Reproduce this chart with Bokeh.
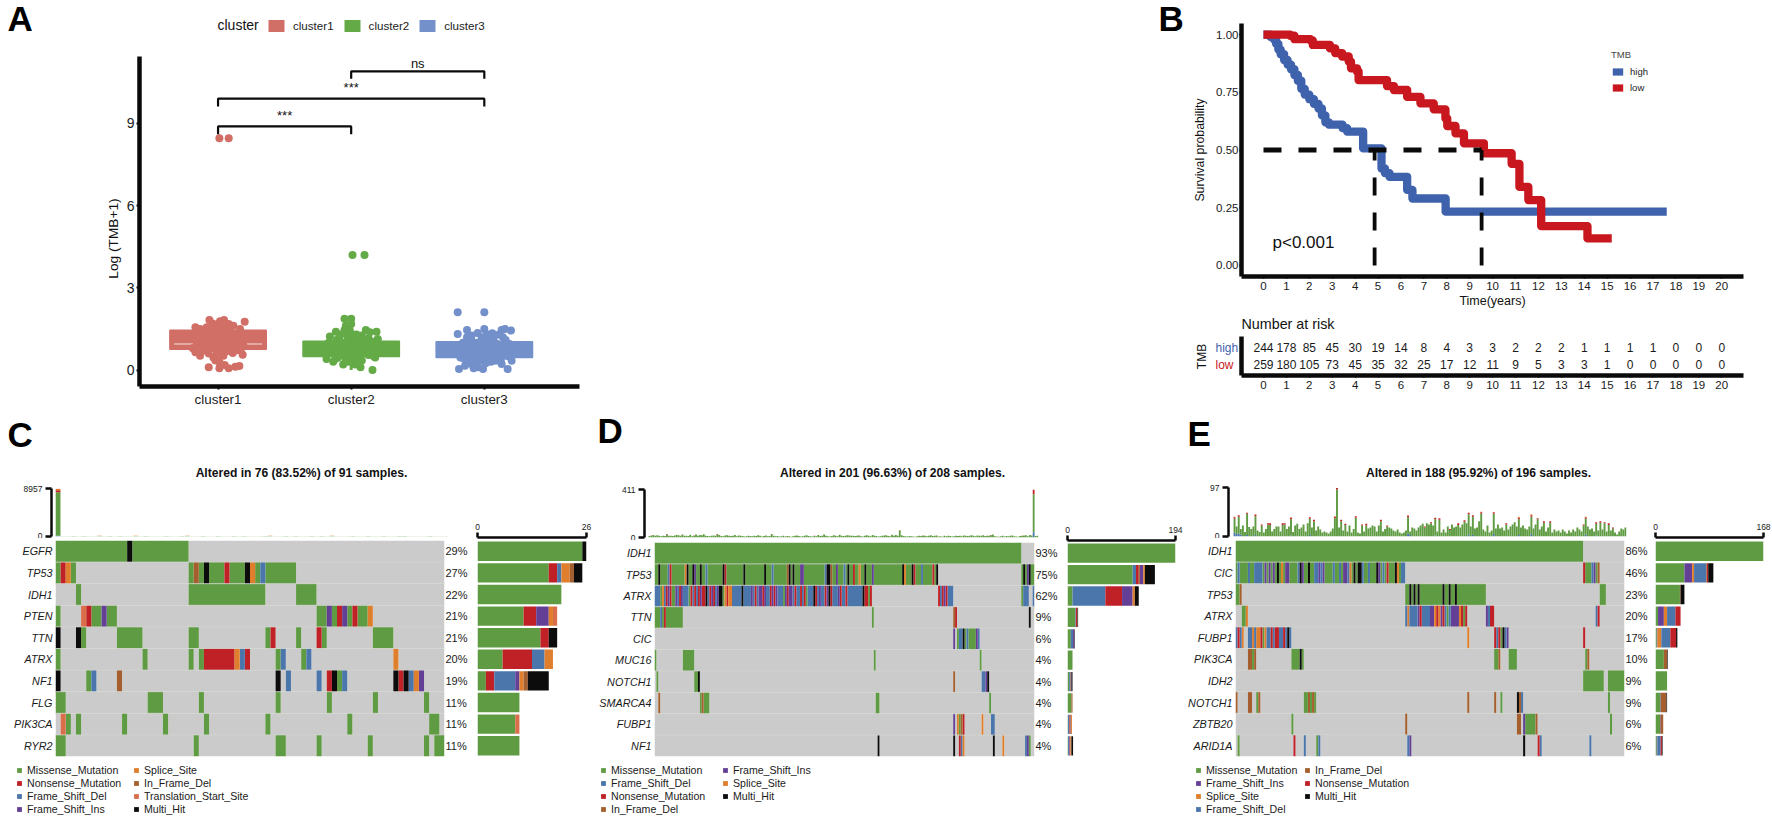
import re, math
from bokeh.plotting import figure
from bokeh.layouts import row, column
from bokeh.models import (Range1d, Label, LinearAxis, FixedTicker, Legend, LegendItem, Spacer, ColumnDataSource)
from bokeh.core.properties import value
from bokeh.embed import file_html
from bokeh.resources import INLINE

FONT = "Liberation Sans"
NAN = float("nan")

# ---------------------------------------------------------------- panel A data
CLUSTERS = ["cluster1", "cluster2", "cluster3"]
CL_COLORS = ["#D16F66", "#64AB48", "#7390CB"]
BOX_Q1 = [0.77, 0.50, 0.47]
BOX_Q3 = [1.44, 1.04, 1.02]
BOX_MED = [0.95, 0.77, 0.74]
WHISK_LO = [0.07, 0.0, 0.04]
WHISK_HI = [1.83, 1.87, 1.5]
C1_J = [.01,.08,-.065,.015,.045,.115,.2,-.17,-.135,-.085,-.02,.08,.165,.18,.185,-.17,-.135,-.035,.04,.13,-.07,.01,.05,.08,.13,.16,
        -.12,-.1,-.08,-.06,-.05,-.04,-.03,-.02,0,.01,.02,.03,.04,.05,.06,.07,.08,.09,.1,.12,-.14,-.13,-.11,-.07,-.01,.02,-.04,0,.14,.16,-.16,.11,-.02,.01,
        -.19,-.18,.19,.17,-.15,-.09,-.03,.03,.06,.09,.11,.13,-.12,-.06,0,.05,-.1,.15,-.14,.07]
C1_Y = [8.46,8.46,1.83,1.78,1.83,1.62,1.76,1.56,1.5,1.56,1.62,1.68,1.5,1.07,.56,.65,.52,.46,.52,.71,.1,.07,.18,.07,.12,.15,
        1.3,1.1,.9,1.4,1.2,1.0,.8,1.35,1.15,.95,.75,1.45,1.25,1.05,.85,1.4,1.2,1.0,.8,1.3,.85,1.15,.7,.6,.6,1.6,1.7,1.5,.95,1.25,1.0,.62,.35,.3,
        .8,1.2,.9,.7,.65,.75,1.55,.55,1.55,1.45,1.1,.9,1.0,.85,.5,.65,1.45,1.1,1.35,.7]
C2_J = [.01,.1,-.05,0,-.04,0,-.05,-.01,-.115,-.16,.11,.14,.19,.08,-.185,-.135,-.06,.07,.16,.04,.18,.2,
        -.17,-.15,-.13,-.11,-.09,-.07,-.05,-.03,-.01,.01,.03,.05,.07,.09,.11,.13,.15,.17,-.12,-.08,-.04,0,.04,.08,.12,-.1,-.06,-.02,.02,.06,.1,.14,-.14,.16,-.02,.03,-.18,.17,
        -.19,-.18,.19,.17,-.13,-.09,-.05,-.01,.03,.07,.11,.15,-.11,-.03,.01,.05,.09,.13,-.07,0]
C2_Y = [4.2,4.2,1.87,1.87,1.62,1.68,1.46,1.44,1.4,1.22,1.46,1.38,1.4,1.26,.4,.3,.2,.1,0,.34,.46,1.13,
        1.0,.8,.6,1.1,.9,.7,.5,1.25,1.05,.85,.65,.45,1.15,.95,.75,.55,1.05,.85,.4,1.3,.35,1.2,1.3,.35,.7,.45,1.0,.6,.95,.7,1.1,.6,.9,.7,.3,.2,.7,.5,
        .9,.6,.8,1.0,.95,1.15,.8,.65,.95,.8,.9,.75,.7,1.0,1.3,1.2,1.0,1.15,.55,.4]
C3_J = [-.2,0,-.2,-.13,0,.06,.13,.2,.155,-.095,-.19,-.145,-.08,-.01,-.045,.175,.13,.205,-.18,
        -.16,-.14,-.12,-.1,-.08,-.06,-.04,-.02,0,.02,.04,.06,.08,.1,.12,.14,.16,.18,-.15,-.11,-.07,-.03,.01,.05,.09,.13,.17,-.13,-.05,.03,.07,.11,-.09,.19,-.17,
        -.19,-.18,.2,.18,-.14,-.1,-.06,-.02,.02,.06,.1,.14,-.12,-.04,0,.04,.08,.12,-.08,.16]
C3_Y = [2.11,2.11,1.32,1.46,1.5,1.34,1.46,1.44,1.5,1.26,.04,.16,.07,.04,.1,.04,.22,.34,.46,
        1.0,.8,.6,1.1,.9,.7,.5,1.2,1.0,.8,.6,1.1,.9,.7,.5,1.2,1.0,.8,.4,.35,.3,.35,.25,.3,.35,.45,.7,1.2,1.35,1.3,1.15,1.3,.2,.95,.75,
        .9,.7,.7,.5,.9,.7,1.0,.8,1.1,.75,.95,.7,1.25,.65,.45,.55,.35,.6,.45,1.1]
BRACKET_FROM = [1, 1, 2]
BRACKET_TO = [2, 3, 3]
BRACKET_Y = [8.89, 9.9, 10.9]
BRACKET_TIP = [8.6, 9.62, 10.63]
BRACKET_TXT = ["***", "***", "ns"]
BRACKET_TXT_Y = [9.27, 10.31, 11.18]

# ---------------------------------------------------------------- panel B data
HIGH_T = [0,.3,.45,.55,.65,.75,.9,1.05,1.2,1.35,1.5,1.65,1.8,2.0,2.2,2.4,2.55,2.7,2.85,3.45,3.65,4.35,5.15,5.3,5.5,6.27,6.5,7.95,17.6]
HIGH_S = [1,.99,.98,.96,.935,.915,.89,.87,.85,.825,.80,.765,.74,.72,.70,.68,.65,.62,.61,.595,.58,.507,.42,.40,.384,.327,.29,.233,.233]
LOW_T = [0,1.17,1.35,2.05,2.15,2.9,3.13,3.43,3.72,3.82,4.08,4.15,5.39,5.69,6.27,6.85,7.43,7.94,8.02,8.38,8.75,9.62,10.83,11.17,11.56,12.12,14.14,15.2]
LOW_S = [1,.995,.98,.975,.955,.94,.92,.905,.883,.854,.84,.803,.777,.76,.73,.702,.676,.637,.604,.572,.529,.486,.44,.34,.283,.17,.117,.117]
MEDIAN_HIGH = 4.85
MEDIAN_LOW = 9.52
YEARS = list(range(21))
RISK_HIGH = [244,178,85,45,30,19,14,8,4,3,3,2,2,2,1,1,1,1,0,0,0]
RISK_LOW = [259,180,105,73,45,35,32,25,17,12,11,9,5,3,3,1,0,0,0,0,0]

# ---------------------------------------------------------------- oncoplot data
TYPE_NAME = {"M":"Missense_Mutation","N":"Nonsense_Mutation","D":"Frame_Shift_Del","I":"Frame_Shift_Ins",
             "S":"Splice_Site","F":"In_Frame_Del","T":"Translation_Start_Site","H":"Multi_Hit"}
TYPE_COLOR = {"M":"#5F9B42","N":"#BF2127","D":"#4A76AB","I":"#643F96","S":"#DF7F2D","F":"#A55F2E","T":"#D96E4B","H":"#0C0C0C","_":"#CBCBCB"}

C_N = 76
C_GENES = ["EGFR","TP53","IDH1","PTEN","TTN","ATRX","NF1","FLG","PIK3CA","RYR2"]
C_PCT = ["29%","27%","22%","21%","21%","20%","19%","11%","11%","11%"]
C_ORDER = "MNDISFTH"
C_ROWS = [
 [(0,"M14 H1 M11")],
 [(0,"M1 N1 S1 M1"),(26,"M1 F1 M1 H1 M3 N1 M3 H1 S1 M1 D1 M6")],
 [(4,"M1"),(26,"M15"),(47,"M4")],
 [(0,"M1"),(5,"T1 N1 M2 I1 M2"),(51,"M2 I1 M1 N1 I1 M1 N1 M2 S1")],
 [(0,"H1"),(4,"H1 M1"),(12,"M5"),(26,"M2"),(41,"M1 N1"),(47,"M1"),(51,"N1 M1"),(62,"M4")],
 [(0,"M1"),(17,"M1"),(26,"M1"),(28,"M1 N6 S1 D1 N1"),(43,"M1 D1"),(48,"M1 D1"),(66,"S1")],
 [(0,"H1"),(6,"M1 D1"),(12,"F1"),(43,"H1"),(45,"D1"),(51,"D1"),(53,"N1 H1 M1 D1"),(66,"H1 N1 H1 D1 S1 I1")],
 [(0,"M2"),(18,"M3"),(28,"M1"),(43,"M1"),(53,"M1"),(62,"M1"),(72,"M1")],
 [(1,"T1 M1"),(4,"M1"),(13,"M1"),(21,"M1"),(29,"M1"),(41,"M1"),(57,"M1"),(73,"M2")],
 [(0,"M2"),(27,"M1"),(43,"M2"),(51,"M1"),(61,"M1"),(72,"M1"),(74,"M2")],
]
C_TOP_M = [8150,60,42,75,50,90,38,66,110,48,70,55,84,36,62,95,45,72,58,40,68,88,52,44,76,100,34,60,82,46,56,92,64,40,74,50,86,38,66,54,78,106,42,58,70,48,90,36,62,80,44,72,56,98,40,64,52,84,46,68,76,38,60,94,50,42,70,86,54,66,36,48,78,58,62,28]
C_TOP_N = {0:350}
C_TOP_S = {0:300, 3:20, 8:30, 15:25, 25:35, 41:30, 53:25, 63:20}
C_TOP_D = {0:120}
C_TOP_MAX = 8957
C_SIDE_MAX = 26
C_TITLE = "Altered in 76 (83.52%) of 91 samples."

D_N = 201
D_GENES = ["IDH1","TP53","ATRX","TTN","CIC","MUC16","NOTCH1","SMARCA4","FUBP1","NF1"]
D_PCT = ["93%","75%","62%","9%","6%","4%","4%","4%","4%","4%"]
D_ORDER = "MDNFISH"
D_ROWS = [
 [(0,"M194")],
 [(0,"M150"),(194,"M1 H1 M1 I1 H1 M2"),(2,"H"),(7,"D N"),(16,"S H"),(20,"H I"),(24,"H"),(27,"D"),(36,"H N"),(47,"H"),(58,"H"),(62,"D"),
  (70,"F H"),(73,"H"),(77,"I I"),(90,"D H H F"),(96,"I"),(100,"D"),(102,"H"),(105,"N"),(108,"S"),(111,"H"),(115,"I"),(131,"H S"),(136,"H N"),(141,"D"),(147,"N"),(149,"H")],
 [(0,"D3 M1 S1 D1 N1 I1 N1 M2 I1 D1 N1 I1 D3 M1 N1 D1 N1 D1 N1 I1 N2 H1 D1 N1 I1 N1 D1 I1 H2 M1 S1 N1 S2 D5 H1 D4 I1 D1 N1 D1 I2 N1 I1 D2 N1 I1 N1 I1 D3 M1 I1 N1 I2 D1 N1 D2 N1 D1 N1 M1 D3 H1 N1 D1 I1 D2 N1 I1 H1 N1 D3 I1 N1 D2 N1 D3 D5 H1 N2 M1 N1"),
  (150,"N1 D1 N1 I1 N1 D3"),(194,"M1 D3"),(200,"D1")],
 [(0,"M3 D1 M1 N1 M9"),(115,"M1"),(158,"F1 N1"),(198,"H1")],
 [(158,"I1"),(160,"M1 D2 H1 M1 D1 M4 I1 D1")],
 [(0,"M1"),(15,"M6"),(116,"M1"),(172,"M1")],
 [(1,"M1"),(21,"M2 H1"),(158,"F1"),(173,"D2 I1 H1")],
 [(2,"F1"),(24,"M1 F1 M3"),(117,"M2"),(177,"M1")],
 [(158,"I1"),(160,"S1 M1 F1 N1"),(173,"S1"),(178,"D2")],
 [(118,"H1"),(158,"H1"),(161,"N1 D1 S1"),(179,"H1"),(184,"S1"),(196,"D1 I1 M1")],
]
D_TOP_TOTAL = [12,18,22,16,20,14,10,16,12,30,16,14,12,18,22,20,14,26,14,16,12,24,10,18,26,14,22,20,28,16,
               12,10,14,18,16,30,22,12,10,18,20,14,12,16,22,10,18,14,12,8,10,14,12,10,16,12,20,14,8,12,
               18,10,12,30,14,10,12,8,10,14,8,12,10,6,10,14,18,12,8,10,16,20,12,10,8,14,10,22,12,16,
               26,14,10,8,12,20,16,10,24,14,12,16,20,18,14,16,12,14,18,10,8,16,20,14,10,22,16,12,8,10,
               14,18,20,12,10,24,16,22,14,62,20,12,10,8,12,10,8,6,10,14,12,18,14,10,16,20,12,14,18,8,
               10,6,14,10,16,12,8,10,14,12,16,10,18,14,12,16,20,14,10,18,16,14,20,12,16,14,22,26,10,8,
               6,10,14,8,12,10,16,18,10,8,6,12,14,18,20,10,22,18,411,12,16,10,14,18,10,8,8][:201]
D_TOP_N = {1:2,9:4,17:3,23:3,35:4,63:3,85:2,108:3,129:3,141:3,160:2,176:3,198:40}
D_TOP_D = {198:45}
D_TOP_MAX = 411
D_SIDE_MAX = 194
D_TITLE = "Altered in 201 (96.63%) of 208 samples."

E_N = 188
E_GENES = ["IDH1","CIC","TP53","ATRX","FUBP1","PIK3CA","IDH2","NOTCH1","ZBTB20","ARID1A"]
E_PCT = ["86%","46%","23%","20%","17%","10%","9%","9%","6%","6%"]
E_ORDER = "MISDFNH"
E_ROWS = [
 [(0,"M168")],
 [(0,"MDMMMMDMMDDDDMIMIMIMHMSMIIMMMMDHIMMHMMDDIDIMMMMDMMDMIIDSMHMHHDMMDMMMHIMDMNMMMHSMDD"),(168,"N1 M3 D1 I1 M1 F1")],
 [(0,"M2 F1"),(82,"M39"),(84,"H"),(86,"H"),(88,"H"),(100,"H"),(103,"H"),(106,"H"),(176,"M3")],
 [(3,"M2 S1"),(82,"DSDDDDINDDDDIISNSINDMDIIIISNMN"),(121,"I1 D1 N2"),(174,"D1 N1")],
 [(0,"D1 N1 D1 S1"),(6,"DDSDSSNMSDDNDNNDDNDHD"),(112,"S1"),(125,"N1 D1 N1 M1 H1 D1 I1"),(168,"N1")],
 [(6,"F2 M1 F1"),(27,"M4 H1 M1"),(125,"M2 F1"),(132,"M4"),(169,"M1 F1")],
 [(168,"M10"),(180,"M8")],
 [(0,"F1"),(6,"F2"),(10,"M1 F1"),(33,"M2 F1 M1 F1 M1"),(112,"F1"),(125,"F1"),(128,"M1"),(136,"H1 F1 D1"),(180,"M1")],
 [(27,"M1"),(82,"F1"),(136,"F2"),(139,"I1 M5 F1"),(181,"M1")],
 [(1,"M1"),(28,"N1"),(33,"D1"),(39,"M1 D1"),(83,"D1 I1"),(139,"H1"),(146,"N1 D1"),(171,"D1")],
]
E_TOP_TOTAL = [39,20,42,15,22,9,47,19,15,20, 44,12,9,24,8,15,26,26,10,15, 20,20,10,26,26,15,20,38,9,22,
               25,15,18,24,10,26,38,18,33,12, 20,14,8,10,8,6,10,16,40,96, 18,33,12,25,10,22,8,15,40,8,
               6,24,10,25,16,18,22,20,10,22, 33,10,15,22,18,16,12,10,14,8, 6,8,12,42,10,18,16,12,18,22,
               25,20,26,24,28,22,37,10,36,8, 14,8,20,15,24,18,20,26,18,24, 32,26,47,20,42,16,18,30,49,14,
               10,22,8,12,48,16,24,16,18,12, 26,14,20,24,28,20,39,18,22,16, 14,20,44,16,24,36,14,20,30,10,
               18,30,8,14,10,12,8,14,10,6, 12,8,14,10,18,14,10,24,39,20, 14,16,10,28,12,30,14,28,10,26,
               12,18,8,4,10,16,14,18]
E_TOP_N = {0:3,2:3,6:2,10:3,13:2,16:2,17:3,23:3,24:2,27:3,36:3,38:3,48:3,49:3,51:3,53:2,58:3,61:2,63:3,70:3,73:2,83:3,91:2,94:2,96:3,98:3,103:2,107:3,110:3,112:3,114:3,118:3,124:3,130:2,136:3,142:3,145:2,148:3,151:3,167:2,168:3,173:3,175:3,177:2,179:3,181:2}
E_TOP_S = {0:1,10:1,27:1,48:1,83:1,118:1,136:2,142:2,168:1}
E_TOP_D = {0:8,1:5,2:6,3:4,6:3,10:3,27:2,36:3,83:6,84:3,96:2,112:4,114:3,124:5,136:3,142:5,168:4,173:2}
E_TOP_MAX = 97
E_SIDE_MAX = 168
E_TITLE = "Altered in 188 (95.92%) of 196 samples."


# ---------------------------------------------------------------- helpers
def mk(x0, y0, x1, y1, fl, ft, fr, fb, xr, yr):
    p = figure(width=x1 - x0, height=y1 - y0, x_range=xr, y_range=yr, output_backend="svg", toolbar_location=None,
               min_border_left=fl - x0, min_border_right=x1 - fr, min_border_top=ft - y0, min_border_bottom=y1 - fb,
               x_axis_location=None, y_axis_location=None, frame_align=False)
    p.outline_line_color = None
    p.grid.visible = False
    p.background_fill_alpha = 0
    p.border_fill_alpha = 0
    return p

def strip(x0, y0, x1, y1):
    """a figure whose frame is the whole box: only texts and legends live here"""
    return mk(x0, y0, x1, y1, x0, y0, x1, y1, Range1d(0, 1), Range1d(0, 1))

def txt(p, fl, fb, ix, iy, text, size, style="normal", color="#111111", align="center", angle=0.0, base="middle"):
    p.add_layout(Label(x=ix - fl, y=fb - iy, x_units="screen", y_units="screen", text=text, text_font=FONT,
                       text_font_size=f"{size}px", text_font_style=style, text_color=color, text_align=align,
                       text_baseline=base, angle=angle))

def style_axis(ax, lw, size, tick_out=3, tick_w=2, standoff=2, font_style="normal"):
    ax.axis_line_width = lw
    ax.axis_line_color = "#0A0A0A"
    ax.major_tick_out = tick_out
    ax.major_tick_in = 0
    ax.major_tick_line_width = tick_w
    ax.major_tick_line_color = "#0A0A0A"
    ax.minor_tick_line_color = None
    ax.major_label_text_font = FONT
    ax.major_label_text_font_size = f"{size}px"
    ax.major_label_text_color = "#1A1A1A"
    ax.major_label_text_font_style = font_style
    ax.major_label_standoff = standoff

def ax_title(ax, text, size, standoff):
    ax.axis_label = text
    ax.axis_label_text_font = FONT
    ax.axis_label_text_font_size = f"{size}px"
    ax.axis_label_text_font_style = "normal"
    ax.axis_label_text_color = "#111111"
    ax.axis_label_standoff = standoff

def expand(segs, n):
    cells = ["_"] * n
    for start, seq in segs:
        i = start
        for code, cnt in re.findall(r"([A-Z_])(\d*)", seq):
            for _ in range(int(cnt) if cnt else 1):
                if i < n:
                    cells[i] = code
                i += 1
    return cells

def oncoplot(letter, lx, ly, x0, x_split, x_end, y_top, y_split, y_end, m_l, m_r, m_t, m_b,
             ax_x, top_t, top_b, side_l, side_r, side_ax, title, tx, leg_x, leg_lw,
             n, genes, pct, order, rows, top_layers, top_max, side_max):
    ng = len(genes)
    cw = (m_r - m_l) / n
    # header strip
    y_head = top_t - 8
    head = strip(x0, y_top, x_split, y_head)
    txt(head, x0, y_head, tx, 472, title, 12.1, "bold")
    txt(head, x0, y_head, lx, ly, letter, 35, "bold", "#000000", align="left")
    # top bars
    xr = Range1d(-(m_l - ax_x) / cw, n)
    top = mk(x0, y_head, x_split, y_split, ax_x, top_t, m_r, top_b, xr, Range1d(0, top_max))
    tot = [0.0] * n
    for code, vals in top_layers:
        vv = [vals.get(i, 0) if isinstance(vals, dict) else vals[i] for i in range(n)]
        src = ColumnDataSource(dict(x=[i + .5 for i in range(n)], top=[a + b for a, b in zip(tot, vv)], bottom=list(tot)))
        top.vbar(x="x", top="top", bottom="bottom", width=.92, source=src, fill_color=TYPE_COLOR[code], line_color=None)
        tot = [a + b for a, b in zip(tot, vv)]
    ax = LinearAxis(ticker=FixedTicker(ticks=[0, top_max]), major_label_overrides={0: "0", top_max: str(top_max)})
    style_axis(ax, 2.5, 8.5, tick_out=6, tick_w=2.5, standoff=3)
    top.add_layout(ax, "left")
    # matrix
    y_mat_end = m_b + 1
    mat = mk(x0, y_split, x_split, y_mat_end, m_l, m_t, m_r, m_b, Range1d(0, n), Range1d(ng - .5, -.5))
    runs = {c: dict(l=[], r=[], t=[], b=[]) for c in list(order) + ["_"]}
    counts = []
    for g, segs in enumerate(rows):
        cells = expand(segs, n)
        counts.append({c: cells.count(c) for c in order})
        i = 0
        while i < n:
            j = i
            while j < n and cells[j] == cells[i]:
                j += 1
            d = runs.setdefault(cells[i], dict(l=[], r=[], t=[], b=[]))
            d["l"].append(i); d["r"].append(j); d["t"].append(g - .5); d["b"].append(g + .5)
            i = j
    mat.quad(left="l", right="r", top="t", bottom="b", source=ColumnDataSource(runs["_"]), fill_color=TYPE_COLOR["_"], line_color=None)
    for c in order:
        mat.quad(left="l", right="r", top="t", bottom="b", source=ColumnDataSource(runs[c]), fill_color=TYPE_COLOR[c], line_color=None)
    mat.segment(x0=[0] * (ng - 1), x1=[n] * (ng - 1), y0=[g + .5 for g in range(ng - 1)], y1=[g + .5 for g in range(ng - 1)],
                line_color="#D4D8D0", line_width=.8)
    lax = LinearAxis(ticker=FixedTicker(ticks=list(range(ng))), major_label_overrides={i: g for i, g in enumerate(genes)})
    style_axis(lax, 0, 10.8, tick_out=0, tick_w=0, standoff=3, font_style="italic")
    lax.axis_line_color = None; lax.major_tick_line_color = None
    mat.add_layout(lax, "left")
    rax = LinearAxis(ticker=FixedTicker(ticks=list(range(ng))), major_label_overrides={i: g for i, g in enumerate(pct)})
    style_axis(rax, 0, 11, tick_out=0, tick_w=0, standoff=1)
    rax.axis_line_color = None; rax.major_tick_line_color = None
    mat.add_layout(rax, "right")
    # legend strip
    lf = strip(x0, y_mat_end, x_split, y_end)
    items = []
    for c in order:
        r = lf.quad(left=[NAN], right=[NAN], top=[NAN], bottom=[NAN], fill_color=TYPE_COLOR[c], line_color=None)
        items.append(LegendItem(label=TYPE_NAME[c], renderers=[r]))
    lf.add_layout(Legend(items=items, ncols=2, orientation="vertical", location=(leg_x - x0, 1), padding=0, margin=0, spacing=1,
                         glyph_width=6, glyph_height=6, label_standoff=5, label_text_font=FONT, label_text_font_size="10.6px",
                         label_text_color="#1A1A1A", border_line_color=None, background_fill_alpha=0, label_height=10, label_width=leg_lw), "center")
    # side bars
    rh = (m_b - m_t) / ng
    y_start = -.5 - (m_t - side_ax) / rh
    side = mk(x_split, y_top, x_end, y_end, side_l, side_ax, side_r, m_b, Range1d(0, side_max), Range1d(ng - .5, y_start))
    left = [0] * ng
    for c in order:
        vals = [counts[g][c] for g in range(ng)]
        right = [a + b for a, b in zip(left, vals)]
        side.hbar(y=list(range(ng)), left=left, right=right, height=.9, fill_color=TYPE_COLOR[c], line_color=None)
        left = right
    sax = LinearAxis(ticker=FixedTicker(ticks=[0, side_max]), major_label_overrides={0: "0", side_max: str(side_max)})
    style_axis(sax, 2.5, 8.5, tick_out=5, tick_w=2.5, standoff=3)
    side.add_layout(sax, "above")
    return row(column(head, top, mat, lf), side)


# ---------------------------------------------------------------- panel A
A_FL, A_FT, A_FR, A_FB = 139, 56, 579, 386
pah = strip(0, 0, 600, A_FT)
txt(pah, 0, A_FT, 7, 18, "A", 35, "bold", "#000000", align="left")
txt(pah, 0, A_FT, 217, 24, "cluster", 14, align="left")
pal = strip(0, A_FT, 122, 415)
txt(pal, 0, 415, 113, 238, "Log (TMB+1)", 13.7, angle=math.pi / 2)
pa = mk(122, A_FT, 600, 415, A_FL, A_FT, A_FR, A_FB, Range1d(.41, 3.715), Range1d(-.6, 11.44))
legend_items = []
for i, (name, col) in enumerate(zip(CLUSTERS, CL_COLORS)):
    c = i + 1
    pa.segment(x0=[c], x1=[c], y0=[WHISK_LO[i]], y1=[WHISK_HI[i]], line_color=col, line_width=3)
    pa.quad(left=[c - .36], right=[c + .36], top=[BOX_Q3[i]], bottom=[BOX_Q1[i]], fill_color=col, line_color=col, line_width=2, line_join="round")
    q = pah.quad(left=[NAN], right=[NAN], top=[NAN], bottom=[NAN], fill_color=col, line_color=None)
    legend_items.append(LegendItem(label=name, renderers=[q]))
pa.segment(x0=[1 - .33], x1=[1 + .33], y0=[BOX_MED[0]], y1=[BOX_MED[0]], line_color="#F4E3E0", line_width=1.2)
for c, (j, y, col) in enumerate(zip((C1_J, C2_J, C3_J), (C1_Y, C2_Y, C3_Y), CL_COLORS), start=1):
    pa.scatter(x=[c + v for v in j], y=y, size=8, fill_color=col, line_color=None)
for a, b, y, t, s, ty in zip(BRACKET_FROM, BRACKET_TO, BRACKET_Y, BRACKET_TIP, BRACKET_TXT, BRACKET_TXT_Y):
    pa.line(x=[a, a, b, b], y=[t, y, y, t], line_color="#0A0A0A", line_width=2.2)
    pa.add_layout(Label(x=(a + b) / 2, y=ty, text=s, text_font=FONT, text_font_size="13px",
                        text_align="center", text_baseline="middle", text_color="#111111"))
pah.add_layout(Legend(items=legend_items, orientation="horizontal",
                      location=(266, A_FT - 33), padding=0, margin=0, spacing=8, glyph_width=20, glyph_height=15,
                      label_standoff=7, label_text_font=FONT, label_text_font_size="11.6px", label_text_color="#222222",
                      border_line_color=None, background_fill_alpha=0), "center")
ax = LinearAxis(ticker=FixedTicker(ticks=[0, 3, 6, 9]))
style_axis(ax, 4.5, 14, standoff=2)
pa.add_layout(ax, "left")
ax = LinearAxis(ticker=FixedTicker(ticks=[1, 2, 3]), major_label_overrides={1: "cluster1", 2: "cluster2", 3: "cluster3"})
style_axis(ax, 4.5, 13.4, standoff=2)
pa.add_layout(ax, "below")
col_a = column(pah, row(pal, pa))

# ---------------------------------------------------------------- panel B
pbl = strip(1150, 0, 1190, 40)
txt(pbl, 1150, 40, 1158, 18, "B", 35, "bold", "#000000", align="left")
B_FL, B_FT, B_FR, B_FB = 1241, 23, 1743, 276
B_XR = (-.96, 20.95)
pb = mk(1190, 0, 1772, 312, B_FL, B_FT, B_FR, B_FB, Range1d(*B_XR), Range1d(-.048, 1.048))
pb.step(HIGH_T, HIGH_S, mode="after", line_color="#3F62AD", line_width=8.3, line_join="round")
pb.step(LOW_T, LOW_S, mode="after", line_color="#C8171E", line_width=8.3, line_join="round")
dash = "18 17"
pb.line([0, MEDIAN_LOW], [.5, .5], line_color="#0A0A0A", line_width=5, line_dash=dash)
pb.line([MEDIAN_HIGH, MEDIAN_HIGH], [0, .5], line_color="#0A0A0A", line_width=3.8, line_dash=dash)
pb.line([MEDIAN_LOW, MEDIAN_LOW], [0, .5], line_color="#0A0A0A", line_width=3.8, line_dash=dash)
lh = pb.quad(left=[NAN], right=[NAN], top=[NAN], bottom=[NAN], fill_color="#3F62AD", line_color=None)
ll = pb.quad(left=[NAN], right=[NAN], top=[NAN], bottom=[NAN], fill_color="#C8171E", line_color=None)
pb.add_layout(Legend(items=[LegendItem(label="high", renderers=[lh]), LegendItem(label="low", renderers=[ll])], title="TMB",
                     location=(1611 - B_FL, B_FB - 93), padding=0, margin=0, spacing=5, glyph_width=13, glyph_height=9,
                     label_standoff=6, label_text_font=FONT, label_text_font_size="9.5px", label_text_color="#222222",
                     title_text_font=FONT, title_text_font_size="9.5px", title_text_font_style="normal", title_standoff=6,
                     border_line_color=None, background_fill_alpha=0), "center")
ax = LinearAxis(ticker=FixedTicker(ticks=[0, .25, .5, .75, 1]), major_label_overrides={0: "0.00", .25: "0.25", .5: "0.50", .75: "0.75", 1: "1.00"})
style_axis(ax, 4.5, 11.5, tick_out=2, standoff=1)
ax_title(ax, "Survival probability", 12.3, 6)
pb.add_layout(ax, "left")
ax = LinearAxis(ticker=FixedTicker(ticks=YEARS))
style_axis(ax, 4.5, 11.5, tick_out=2, standoff=3)
ax_title(ax, "Time(years)", 12.5, 1)
pb.add_layout(ax, "below")
pb.add_layout(Label(x=B_XR[0], y=.1, x_units="data", y_units="data", x_offset=31, y_offset=0, text="p<0.001", text_font=FONT, text_font_size="17px", text_color="#111111", text_baseline="middle"))

prh = strip(1190, 312, 1772, 332)
txt(prh, 1190, 332, 1241, 323, "Number at risk", 14.3, align="left")
prl = strip(1190, 332, 1238, 415)
txt(prl, 1190, 415, 1201, 356, "TMB", 12, angle=math.pi / 2)
txt(prl, 1190, 415, 1215, 347, "high", 12, color="#3F62AD", align="left")
txt(prl, 1190, 415, 1215, 364, "low", 12, color="#C8171E", align="left")
R_FL, R_FT, R_FR, R_FB = 1241, 336, 1743, 375
pr = mk(1238, 332, 1772, 415, R_FL, R_FT, R_FR, R_FB, Range1d(*B_XR), Range1d(-.1, 2.2))
pr.text(x=YEARS, y=[1.55] * 21, text=[str(v) for v in RISK_HIGH], text_font=value(FONT), text_font_size="12px", text_align="center", text_baseline="middle", text_color="#1A1A1A")
pr.text(x=YEARS, y=[.55] * 21, text=[str(v) for v in RISK_LOW], text_font=value(FONT), text_font_size="12px", text_align="center", text_baseline="middle", text_color="#1A1A1A")
ax = LinearAxis(ticker=FixedTicker(ticks=YEARS))
style_axis(ax, 4.5, 11.5, tick_out=2, standoff=3)
pr.add_layout(ax, "below")
ax = LinearAxis(ticker=FixedTicker(ticks=[]))
style_axis(ax, 4.5, 11.5, tick_out=0, standoff=0)
pr.add_layout(ax, "left")

top_row = row(col_a, Spacer(width=1150 - 600, height=10), pbl, column(pb, prh, row(prl, pr)))

# ---------------------------------------------------------------- panels C, D, E
Y0, YEND = 415, 816
pc = oncoplot("C", 7, 434, 0, 470, 596, Y0, 538, YEND, 55, 448, 540, 756, 51, 488, 536, 477, 586, 537, C_TITLE, 301, 16, 105,
              C_N, C_GENES, C_PCT, C_ORDER, C_ROWS,
              [("D", C_TOP_D), ("M", C_TOP_M), ("N", C_TOP_N), ("S", C_TOP_S)], C_TOP_MAX, C_SIDE_MAX)
pd_ = oncoplot("D", 597, 430, 596, 1060, 1185, Y0, 540, YEND, 648, 1038, 542, 756, 644, 489, 537, 1067, 1175, 540, D_TITLE, 892, 600, 110,
               D_N, D_GENES, D_PCT, D_ORDER, D_ROWS,
               [("D", D_TOP_D), ("M", [t - D_TOP_N.get(i, 0) - D_TOP_D.get(i, 0) for i, t in enumerate(D_TOP_TOTAL)]), ("N", D_TOP_N)], D_TOP_MAX, D_SIDE_MAX)
pe = oncoplot("E", 1187, 433, 1185, 1650, 1772, Y0, 538, YEND, 1233, 1626, 540, 756, 1228, 487, 536, 1655, 1763, 537, E_TITLE, 1478, 1195, 97,
              E_N, E_GENES, E_PCT, E_ORDER, E_ROWS,
              [("D", E_TOP_D), ("M", [t - E_TOP_N.get(i, 0) - E_TOP_D.get(i, 0) - E_TOP_S.get(i, 0) for i, t in enumerate(E_TOP_TOTAL)]), ("N", E_TOP_N), ("S", E_TOP_S)], E_TOP_MAX, E_SIDE_MAX)

page = column(top_row, row(pc, pd_, pe))
open("out.html", "w").write(file_html(page, INLINE))
